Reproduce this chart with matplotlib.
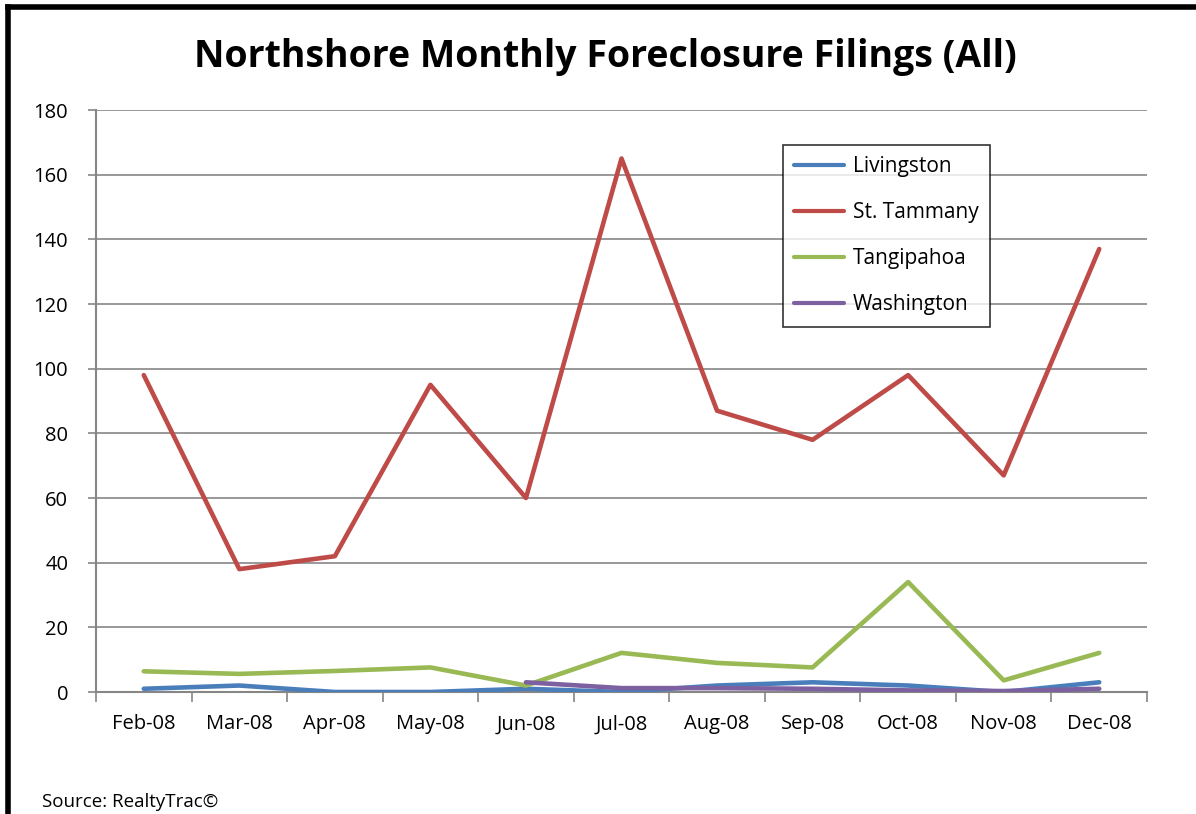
import numpy as np
import matplotlib.pyplot as plt

months = ['Feb-08', 'Mar-08', 'Apr-08', 'May-08', 'Jun-08', 'Jul-08',
          'Aug-08', 'Sep-08', 'Oct-08', 'Nov-08', 'Dec-08']
livingston = [1, 2, 0, 0, 1, 0, 2, 3, 2, 0, 3]
st_tammany = [98, 38, 42, 95, 60, 165, 87, 78, 98, 67, 137]
tangipahoa = [6.4, 5.6, 6.5, 7.6, 2, 12.1, 9, 7.6, 34, 3.6, 12.1]
washington = [np.nan, np.nan, np.nan, np.nan, 3, 1.2, 1.2, 1, 0.5, 0.3, 1]
yticks = list(range(0, 181, 20))

plt.rcParams['font.family'] = ['Open Sans', 'DejaVu Sans']

fig = plt.figure(figsize=(11.96, 8.14), dpi=100)
ax = fig.add_axes([96 / 1196, 1 - 692 / 814, (1147 - 96) / 1196, (692 - 110) / 814])

x = np.arange(len(months))
lw = 3.3
ax.plot(x, livingston, color='#4A7EBB', lw=lw, label='Livingston', solid_capstyle='round', zorder=3)
ax.plot(x, st_tammany, color='#BE4B48', lw=lw, label='St. Tammany', solid_capstyle='round', zorder=3)
ax.plot(x, tangipahoa, color='#98B954', lw=lw, label='Tangipahoa', solid_capstyle='round', zorder=3)
ax.plot(x, washington, color='#7D60A0', lw=lw, label='Washington', solid_capstyle='round', zorder=4)

ax.set_xlim(-0.5, len(months) - 0.5)
ax.set_ylim(0, 180)
ax.set_yticks(yticks)
ax.tick_params(axis='y', labelsize=14.5, length=6, width=1.2, color='#868686', pad=14)
ax.set_xticks(np.arange(-0.5, len(months), 1.0))
ax.set_xticklabels([])
ax.set_xticks(x, minor=True)
ax.set_xticklabels(months, minor=True)
ax.tick_params(axis='x', which='major', length=7, width=1.2, color='#868686')
ax.tick_params(axis='x', which='minor', length=0, labelsize=14.5, pad=16)

ax.grid(axis='y', color='#868686', lw=1.2)
ax.set_axisbelow(True)
for side in ['top', 'right']:
    ax.spines[side].set_visible(False)
for side in ['left', 'bottom']:
    ax.spines[side].set_color('#868686')
    ax.spines[side].set_linewidth(1.5)

fig.text(605 / 1196, 1 - 57 / 814, 'Northshore Monthly Foreclosure Filings (All)',
         ha='center', va='center', fontsize=27, fontweight='bold')
fig.text(42 / 1196, 1 - 802 / 814, 'Source: RealtyTrac©', ha='left', va='center', fontsize=13.5)

leg = ax.legend(loc='upper left', bbox_to_anchor=(783 / 1196, 1 - 145 / 814),
                bbox_transform=fig.transFigure, fontsize=15, frameon=True, fancybox=False,
                handlelength=2.4, labelspacing=1.2, borderpad=0.55, handletextpad=0.4,
                borderaxespad=0)
leg.get_frame().set_edgecolor('black')
leg.get_frame().set_linewidth(1.2)
for h in leg.get_lines():
    h.set_linewidth(3)

# black frame on top and left of the picture
fig.add_artist(plt.Line2D([8 / 1196, 8 / 1196], [0, 1 - 7 / 814], color='black', lw=4,
                          transform=fig.transFigure))
fig.add_artist(plt.Line2D([8 / 1196, 1], [1 - 7 / 814, 1 - 7 / 814], color='black', lw=4,
                          transform=fig.transFigure))

fig.savefig('out.png', dpi=100)
